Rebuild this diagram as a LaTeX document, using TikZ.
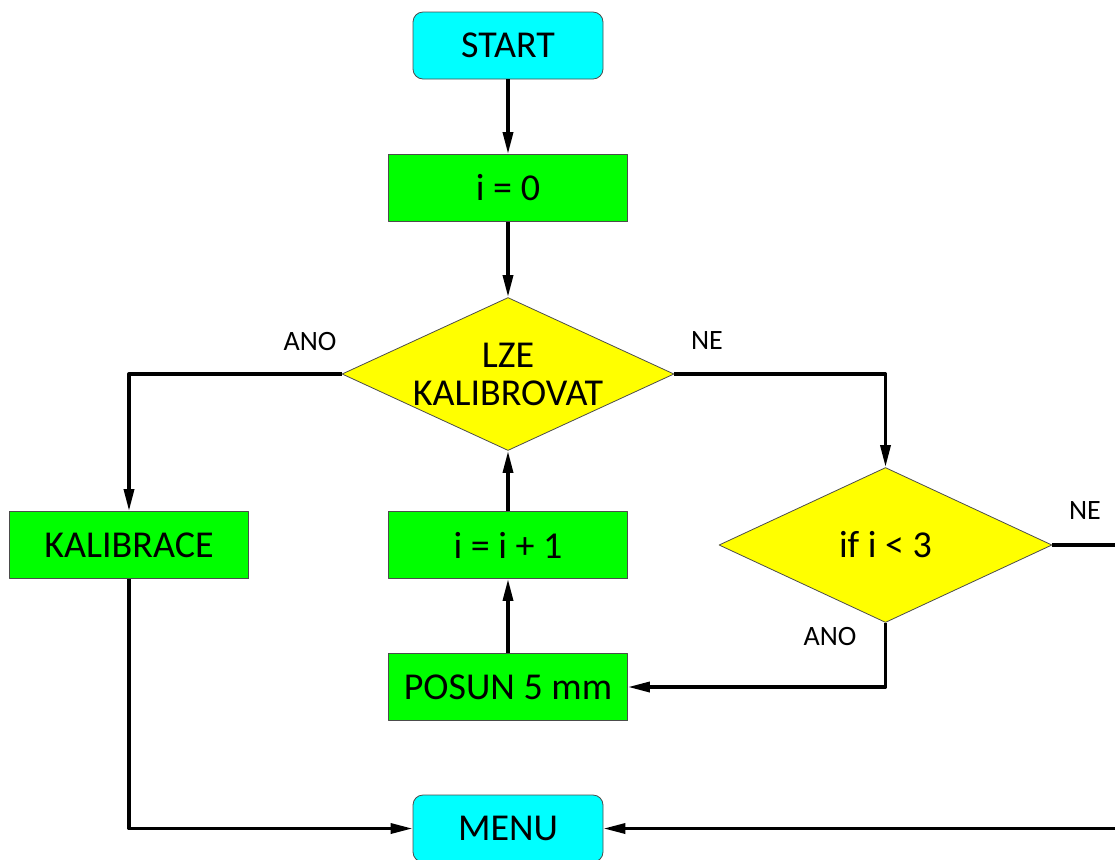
\documentclass[tikz,border=0pt]{standalone}
\usepackage{fontspec}
\setmainfont{Carlito}
\usetikzlibrary{shapes.geometric,arrows.meta}
\definecolor{termcol}{RGB}{0,255,255}
\definecolor{boxcol}{RGB}{0,255,0}
\definecolor{condcol}{RGB}{255,255,0}
\begin{document}
\begin{tikzpicture}[x=0.5pt,y=-0.5pt, line join=round,
	>={Triangle[length=11pt,width=5pt]},
	box/.style={draw=gray!60!black, line width=0.4pt, fill=boxcol, minimum width=119.5pt, minimum height=33.5pt, inner sep=0pt, font=\fontsize{19}{19}\selectfont},
	term/.style={box, fill=termcol, rounded corners=5pt, minimum width=95pt, minimum height=33.5pt},
	cond/.style={draw=gray!60!black, line width=0.4pt, fill=condcol, diamond, aspect=2.17, inner sep=0pt, align=center, font=\fontsize{19}{19}\selectfont},
	lbl/.style={font=\fontsize{14}{14}\selectfont, inner sep=0pt},
	arr/.style={->, line width=1.7pt},
	ln/.style={line width=1.7pt}]
	\useasboundingbox (0,0) rectangle (1115,859);
	% nodes
	\node[term] (start) at (508,45.5) {START};
	\node[box] (init) at (508,188) {i = 0};
	\node[cond, minimum width=166pt, minimum height=76.5pt] (lze) at (508,374) {LZE\\KALIBROVAT};
	\node[box] (kal) at (129,545) {KALIBRACE};
	\node[box] (inc) at (508,545) {i = i + 1};
	\node[box] (posun) at (508,687) {POSUN 5 mm};
	\node[cond, minimum width=166.5pt, minimum height=77.5pt] (ifi) at (885.5,545) {if i < 3};
	\node[term] (menu) at (508,828.5) {MENU};
	\coordinate (out) at (1115,545);
	\coordinate (back) at (1115,828.5);
	% labels
	\node[lbl] (ano1) at (310,341) {ANO};
	\node[lbl] (ne1) at (707,341) {NE};
	\node[lbl] (ne2) at (1085,511) {NE};
	\node[lbl] (ano2) at (830,636) {ANO};
	% connectors
	\draw[arr] (start) -- (init);
	\draw[arr] (init) -- (lze);
	\draw[arr] (lze.west) -| (kal.north);
	\draw[arr] (lze.east) -| (ifi.north);
	\draw[arr] (ifi.south) |- (posun.east);
	\draw[arr] (posun) -- (inc);
	\draw[arr] (inc) -- (lze.south);
	\draw[arr] (kal.south) |- (menu.west);
	\draw[ln] (ifi.east) -- (out);
	\draw[arr] (back) -- (menu.east);
\end{tikzpicture}
\end{document}
